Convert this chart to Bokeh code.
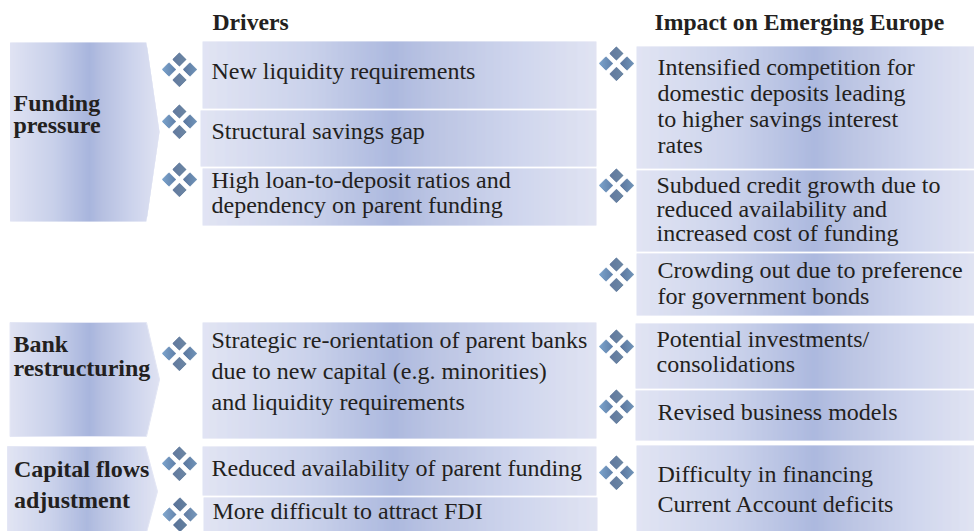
from bokeh.plotting import figure
from bokeh.models import ColumnDataSource, Range1d
from bokeh.core.properties import value
from bokeh.embed import file_html
from bokeh.resources import INLINE
import numpy as np

# ---- texts
headers = ["Drivers", "Impact on Emerging Europe"]
groups = ["Funding", "pressure", "Bank", "restructuring", "Capital flows", "adjustment"]
drivers = ["New liquidity requirements", "Structural savings gap",
           "High loan-to-deposit ratios and", "dependency on parent funding",
           "Strategic re-orientation of parent banks", "due to new capital (e.g. minorities)",
           "and liquidity requirements", "Reduced availability of parent funding",
           "More difficult to attract FDI"]
impacts = ["Intensified competition for", "domestic deposits leading", "to higher savings interest", "rates",
           "Subdued credit growth due to", "reduced availability and", "increased cost of funding",
           "Crowding out due to preference", "for government bonds",
           "Potential investments/", "consolidations", "Revised business models",
           "Difficulty in financing", "Current Account deficits"]

# ---- layout (page pixels)
header_x = [213, 655]; header_y = [30, 30]
group_x = [14, 14, 14, 14, 14.5, 14.5]; group_y = [111, 133, 352, 376, 477, 508]
driver_x = [212, 212, 212, 212, 212, 212, 212, 212, 213]
driver_y = [79, 139, 188, 213, 348, 379, 410, 476, 519]
impact_x = [658, 658, 658, 658, 657, 657, 657, 658, 658, 657, 657, 658, 658, 658]
impact_y = [75, 101, 127, 153, 193, 217, 241, 278, 304, 347, 372, 420, 482, 512]

arrows = [(9.5, 146, 159, 42, 221), (9.5, 146, 159, 322, 436), (7, 145, 157, 446, 536)]
driver_boxes = [(202, 596, 41, 108), (200, 596, 110, 166), (202, 596, 168, 225),
                (202, 596, 322, 438), (202, 596, 446, 495), (203, 597, 497, 531)]
impact_boxes = [(636, 974, 46, 168), (636, 974, 170, 251), (636, 974, 253, 315),
                (635, 974, 323, 388), (635, 974, 390, 440), (636, 974, 445, 531)]
cluster_x = [179, 179, 179, 179, 179, 179.5, 616, 616, 616, 616, 616, 616]
cluster_y = [69, 121, 179, 353, 463, 514, 63, 185, 274, 346, 406, 472]

TEXT = "#231f20"
SERIF = "Liberation Serif"


def hex2rgb(h):
    return np.array([int(h[i:i + 2], 16) for i in (1, 3, 5)], float)


def band_colors(f, peak):
    px = [0, peak * 0.55, peak, peak + 0.09, peak + (1 - peak) * 0.6, 1]
    cols = ["#e0e3f3", "#c8d0ea", "#a8b5dd", "#b6c0e1", "#ccd3ec", "#dfe2f2"]
    arr = np.array([hex2rgb(c) for c in cols])
    out = []
    for v in f:
        rgb = [np.interp(v, px, arr[:, k]) for k in range(3)]
        out.append("#%02x%02x%02x" % tuple(int(round(c)) for c in rgb))
    return out


xs_all, ys_all, col_all = [], [], []


def add_strips(x0, x1, top_fn, bot_fn, peak):
    edges = list(np.arange(x0, x1, 1.0)) + [x1]
    mids = [(a + b) / 2 for a, b in zip(edges[:-1], edges[1:])]
    f = [(m - x0) / (x1 - x0) for m in mids]
    cols = band_colors(f, peak)
    for a, b, c in zip(edges[:-1], edges[1:], cols):
        # slight overlap hides seams between the strips
        b2 = min(b + 0.4, x1)
        xs_all.append([a, b2, b2, a])
        ys_all.append([top_fn(a), top_fn(b2), bot_fn(b2), bot_fn(a)])
        col_all.append(c)


outline_x, outline_y = [], []
for x0, x1, tip, y0, y1 in arrows:
    ym = (y0 + y1) / 2
    top = lambda x, x1=x1, tip=tip, y0=y0, ym=ym: y0 if x <= x1 else y0 + (ym - y0) * (x - x1) / (tip - x1)
    bot = lambda x, x1=x1, tip=tip, y1=y1, ym=ym: y1 if x <= x1 else y1 - (y1 - ym) * (x - x1) / (tip - x1)
    add_strips(x0, tip, top, bot, 0.53)
    outline_x.append([x0, x1, tip, x1, x0])
    outline_y.append([y0, y0, ym, y1, y1])

for x0, x1, y0, y1 in driver_boxes:
    add_strips(x0, x1, lambda x, y=y0: y, lambda x, y=y1: y, 0.485)
for x0, x1, y0, y1 in impact_boxes:
    add_strips(x0, x1, lambda x, y=y0: y, lambda x, y=y1: y, 0.527)

# diamonds
dx_all, dy_all, dc_all = [], [], []
H = 7.0
for cx, cy in zip(cluster_x, cluster_y):
    for ox, oy, c0, c1 in [(0, -10, "#5a7399", "#64809f"), (-10.5, 0, "#7ba3cc", "#5f7fa8"),
                           (10.5, 0, "#5a769e", "#7093b8"), (0, 10.5, "#5a7399", "#64809f")]:
        mx, my = cx + ox, cy + oy
        a, b = hex2rgb(c0), hex2rgb(c1)
        for i in range(14):
            l, r = mx - H + i, min(mx - H + i + 1.4, mx + H)
            hw = lambda x: H - abs(x - mx)
            t = (i + 0.5) / 14
            rgb = a + (b - a) * t
            if l < mx < r:
                dx_all.append([l, mx, r, r, mx, l])
                dy_all.append([my - hw(l), my - H, my - hw(r), my + hw(r), my + H, my + hw(l)])
            else:
                dx_all.append([l, r, r, l])
                dy_all.append([my - hw(l), my - hw(r), my + hw(r), my + hw(l)])
            dc_all.append("#%02x%02x%02x" % tuple(int(round(v)) for v in rgb))

p = figure(width=974, height=531, x_range=Range1d(0, 974), y_range=Range1d(531, 0),
           output_backend="svg", toolbar_location=None, min_border=0,
           outline_line_color=None, background_fill_color="white", border_fill_color="white")
p.axis.visible = False
p.grid.visible = False

p.patches(xs="x", ys="y", fill_color="c", line_color=None,
          source=ColumnDataSource(dict(x=xs_all, y=ys_all, c=col_all)))
p.patches(xs="x", ys="y", fill_color=None, line_color="#e4e7f5", line_width=1,
          source=ColumnDataSource(dict(x=outline_x[1:], y=outline_y[1:])))
p.patches(xs="x", ys="y", fill_color="c", line_color=None,
          source=ColumnDataSource(dict(x=dx_all, y=dy_all, c=dc_all)))


def put(x, y, labels, size, style):
    p.text(x=x, y=y, text=labels, text_font=value(SERIF), text_font_size=value(size),
           text_font_style=style, text_color=TEXT, text_baseline="alphabetic", text_align="left",
           x_offset=-1, y_offset=-9)


put(header_x, header_y, headers, "23.7px", "bold")
put(group_x, group_y, groups, "24px", "bold")
put(driver_x, driver_y, drivers, "24px", "normal")
put(impact_x, impact_y, impacts, "24px", "normal")

open("out.html", "w").write(file_html(p, INLINE))
